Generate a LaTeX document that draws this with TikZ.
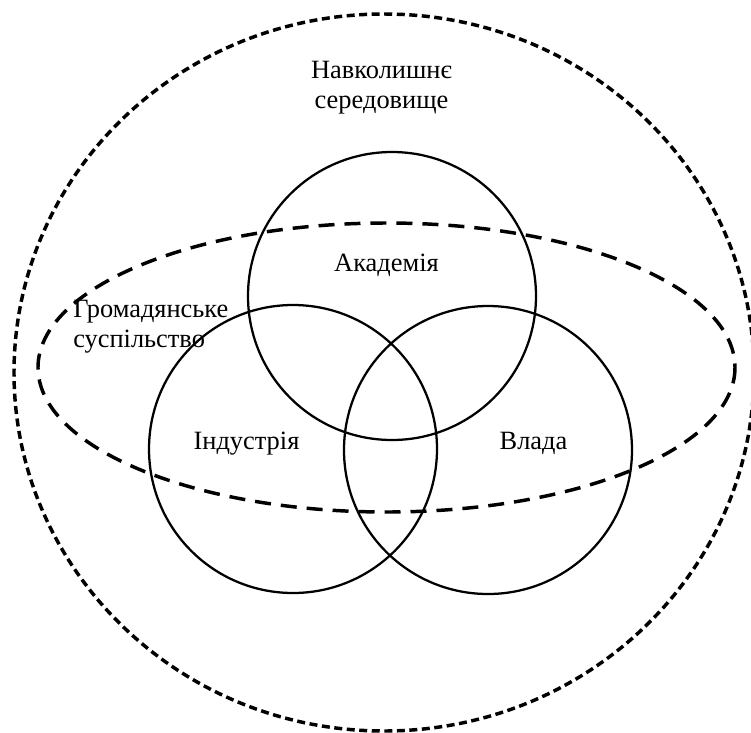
\documentclass[tikz,border=0pt]{standalone}
\usepackage{fontspec}
\setmainfont{Liberation Serif}
\begin{document}
\begin{tikzpicture}[x=0.75pt,y=-0.75pt,
  circ/.style={draw=black,line width=1.7pt},
  outerdash/.style={draw=black,line width=2.6pt,dash pattern=on 6pt off 3.4pt},
  innerdash/.style={draw=black,line width=2.6pt,dash pattern=on 12pt off 7.5pt},
  lbl/.style={font=\fontsize{19.8pt}{22pt}\selectfont,inner sep=0pt}]
\useasboundingbox (0,0) rectangle (751,733);
% surroundings and civil society
\draw[outerdash] (384,372.5) ellipse [x radius=370, y radius=358.5];
\draw[innerdash] (386.5,367.5) ellipse [x radius=348.5, y radius=144.5];
% the three spheres
\draw[circ] (392,296) circle [radius=144];
\draw[circ] (293,449) circle [radius=144];
\draw[circ] (488,450) circle [radius=144];
% labels (multi-line nodes sit on the baseline of their last line)
\node[lbl,align=center,anchor=base] (env) at (381.5,108) {Навколишнє\\середовище};
\node[lbl,anchor=base] (acad) at (386.5,271) {Академія};
\node[lbl,align=left,anchor=base west] (civ) at (73,347) {Громадянське\\суспільство};
\node[lbl,anchor=base] (ind) at (246.5,449) {Індустрія};
\node[lbl,anchor=base] (gov) at (533.5,449) {Влада};
\end{tikzpicture}
\end{document}
